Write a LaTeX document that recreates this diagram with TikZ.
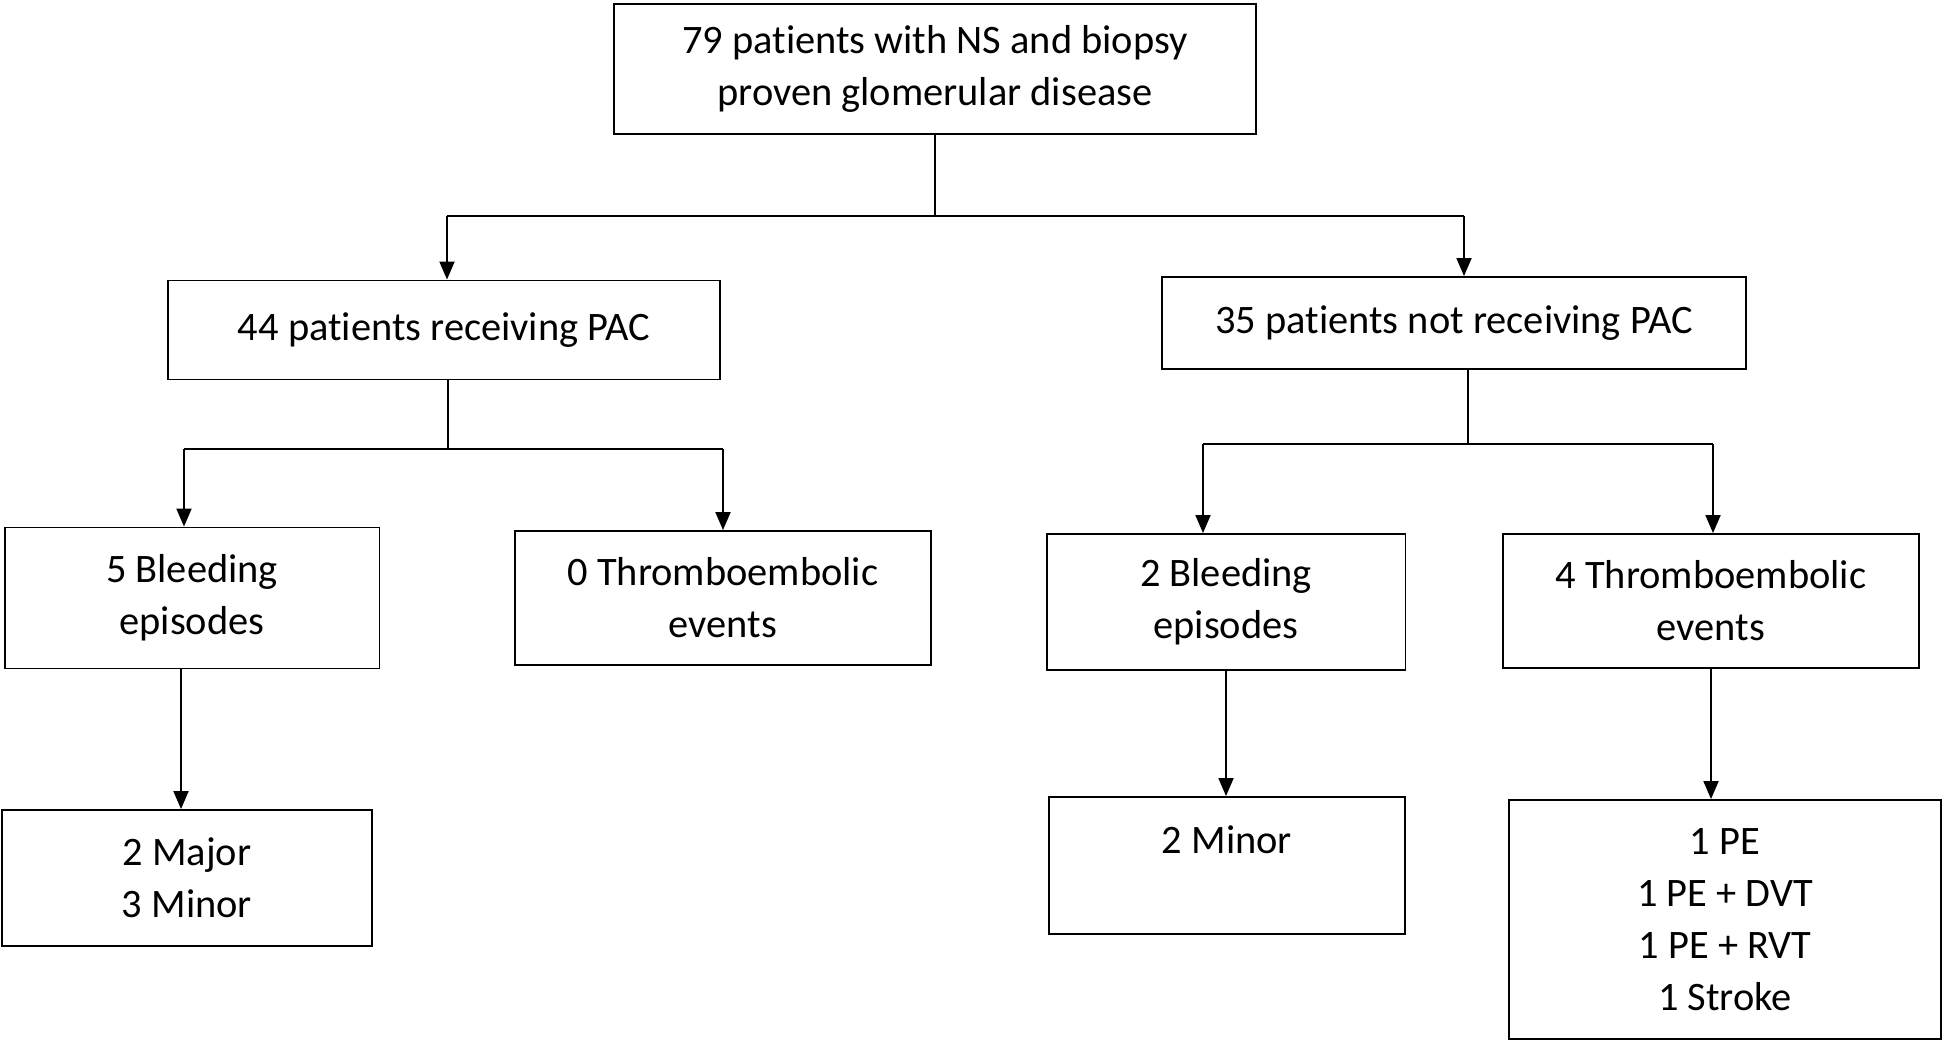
\documentclass[tikz,border=0pt]{standalone}
\usepackage{fontspec}
\setmainfont{Carlito}[Ligatures=NoCommon]
\usepackage{tikz}
\usetikzlibrary{arrows.meta}

\begin{document}
\begin{tikzpicture}[
 x=0.02cm,y=-0.02cm,
 font=\fontsize{23}{29.6}\selectfont,
 box/.style={draw,line width=1.1pt,align=center,inner sep=0pt},
 arr/.style={-{Triangle[length=3.6mm,width=3mm]},line width=1.1pt},
 line/.style={line width=1.1pt}
]
\useasboundingbox (0,0) rectangle (1946,1044);
% boxes
\node[box,minimum width=12.84cm,minimum height=2.6cm] (top) at (935,69) {79 patients with NS and biopsy\\proven glomerular disease};
\node[box,minimum width=11.06cm,minimum height=1.98cm] (pac) at (444,330) {44 patients receiving PAC};
\node[box,minimum width=11.68cm,minimum height=1.84cm] (nopac) at (1454,323) {35 patients not receiving PAC};
\node[box,minimum width=7.5cm,minimum height=2.82cm] (bleedA) at (192,598) {5 Bleeding\\episodes};
\node[box,minimum width=8.32cm,minimum height=2.68cm] (thrA) at (723,598) {0 Thromboembolic\\events};
\node[box,minimum width=7.18cm,minimum height=2.72cm] (bleedB) at (1226,602) {2 Bleeding\\episodes};
\node[box,minimum width=8.32cm,minimum height=2.68cm] (thrB) at (1711,601) {4 Thromboembolic\\events};
\node[box,minimum width=7.4cm,minimum height=2.72cm] (sevA) at (187,878) {2 Major\\3 Minor};
\node[box,minimum width=7.12cm,minimum height=2.74cm] (sevB) at (1227,865.5) {2 Minor\\\mbox{}};
\node[box,minimum width=8.64cm,minimum height=4.78cm] (thrtype) at (1725,919.5) {1 PE\\1 PE + DVT\\1 PE + RVT\\1 Stroke};
% split points
\coordinate (busTL) at (447,216);
\coordinate (busTR) at (1464,216);
\coordinate (busML) at (184,449);
\coordinate (busMR) at (723,449);
\coordinate (busRL) at (1203,444);
\coordinate (busRR) at (1713,444);
% connectors
\draw[line] (top.south) -- (top.south |- busTL);
\draw[line] (busTL) -- (busTR);
\draw[arr] (busTL) -- (pac.north -| busTL);
\draw[arr] (busTR) -- (nopac.north -| busTR);
\draw[line] ([xshift=0.08cm]pac.south) -- ([xshift=0.08cm]pac.south |- busML);
\draw[line] (busML) -- (busMR);
\draw[arr] (busML) -- (bleedA.north -| busML);
\draw[arr] (busMR) -- (thrA.north -| busMR);
\draw[line] ([xshift=0.28cm]nopac.south) -- ([xshift=0.28cm]nopac.south |- busRL);
\draw[line] (busRL) -- (busRR);
\draw[arr] (busRL) -- (bleedB.north -| busRL);
\draw[arr] (busRR) -- (thrB.north -| busRR);
\draw[arr] ([xshift=-0.22cm]bleedA.south) -- ([xshift=-0.22cm]bleedA.south |- sevA.north);
\draw[arr] (bleedB.south) -- (bleedB.south |- sevB.north);
\draw[arr] (thrB.south) -- (thrB.south |- thrtype.north);
\end{tikzpicture}
\end{document}
